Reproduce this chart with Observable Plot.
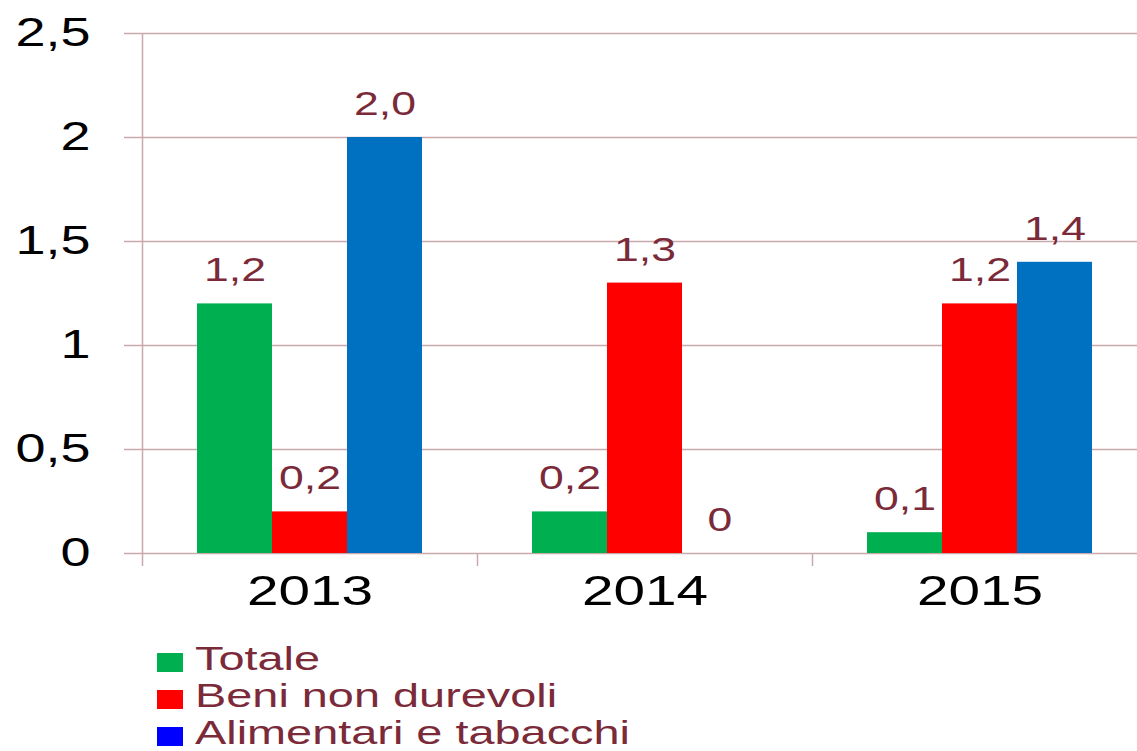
<!DOCTYPE html>
<html><head><meta charset="utf-8">
<script src="https://cdn.jsdelivr.net/npm/d3@7"></script>
<script src="https://cdn.jsdelivr.net/npm/@observablehq/plot@0.6"></script>
<style>
body{margin:0;background:#fff;font-family:"Liberation Sans",Arial,sans-serif;}
#chart svg{display:block;}
#legend{padding-left:157px;margin:0;}
.row{height:37px;display:flex;align-items:flex-start;}
.sw{width:26px;height:19px;margin-top:13px;flex:none;}
.lab{font-size:33px;line-height:37px;color:#7b2a3a;margin-left:12px;transform:scaleX(1.42);transform-origin:left center;white-space:nowrap;}
</style></head><body>
<div id="chart"></div>
<div id="legend"></div>
<script>
const years = ["2013", "2014", "2015"];
const series = ["Totale", "Beni non durevoli", "Alimentari e tabacchi"];
const totale = [1.2, 0.2, 0.1];
const beni = [0.2, 1.3, 1.2];
const alimentari = [2.0, 0, 1.4];
const totaleLabels = ["1,2", "0,2", "0,1"];
const beniLabels = ["0,2", "1,3", "1,2"];
const alimentariLabels = ["2,0", "0", "1,4"];
const yTicks = [0, 0.5, 1, 1.5, 2, 2.5];
const yTickLabels = ["0", "0,5", "1", "1,5", "2", "2,5"];
const barColors = ["#00b050", "#ff0000", "#0070c0"];
const legendColors = ["#00b050", "#ff0000", "#0000ff"];

const values = [totale, beni, alimentari];
const labels = [totaleLabels, beniLabels, alimentariLabels];
const tables = series.map((s, k) => years.map((y, i) => ({year: y, value: values[k][i], label: labels[k][i]})));

const W = 1137, H = 640, mL = 142, mT = 33, mB = 87;
const xRange = [142, 1147];
const bw = (xRange[1] - xRange[0]) / years.length;
const barW = 75;
const frameH = H - mT - mB;
const gridColor = "#c9a9ac";
const labelColor = "#7b2a3a";

const marks = [
  Plot.ruleY(yTicks, {y: d => d, stroke: gridColor, strokeWidth: 1.5, insetLeft: -18}),
  Plot.ruleX([years[0]], {x: d => d, dx: -bw / 2, stroke: gridColor, strokeWidth: 1.5, insetBottom: -13}),
  Plot.ruleX(years.slice(1), {x: d => d, dx: -bw / 2, stroke: gridColor, strokeWidth: 1.5, insetTop: frameH, insetBottom: -13}),
];
tables.forEach((t, k) => {
  marks.push(Plot.barY(t, {x: "year", y: "value", fill: barColors[k], insetLeft: (bw - barW) / 2, insetRight: (bw - barW) / 2, dx: (k - 1) * barW}));
});
tables.forEach((t, k) => {
  marks.push(Plot.text(t, {x: "year", y: "value", text: "label", dx: (k - 1) * barW, dy: -33, fontSize: 33, fill: labelColor}));
});
marks.push(Plot.text(yTicks, {y: d => d, text: (d, i) => yTickLabels[i], frameAnchor: "left", textAnchor: "end", dx: -52, fontSize: 40, fill: "#000"}));
marks.push(Plot.text(years, {x: d => d, text: d => d, frameAnchor: "bottom", dy: 51, fontSize: 42, fill: "#000"}));

const chart = Plot.plot({
  width: W, height: H,
  marginLeft: mL, marginRight: 0, marginTop: mT, marginBottom: mB,
  style: {fontFamily: "'Liberation Sans', Arial, sans-serif", background: "#fff", overflow: "visible"},
  x: {type: "band", domain: years, range: xRange, padding: 0, axis: null},
  y: {domain: [0, 2.5], axis: null},
  marks
});
chart.querySelectorAll("text").forEach(t => {
  const x = +(t.getAttribute("x") || 0);
  const tr = t.getAttribute("transform") || "";
  t.setAttribute("transform", `${tr} translate(${x},0) scale(1.35,1) translate(${-x},0)`);
});
document.getElementById("chart").appendChild(chart);

const legend = document.getElementById("legend");
series.forEach((s, k) => {
  const row = document.createElement("div");
  row.className = "row";
  const sw = document.createElement("span");
  sw.className = "sw";
  sw.style.background = legendColors[k];
  const lab = document.createElement("span");
  lab.className = "lab";
  lab.textContent = s;
  row.appendChild(sw); row.appendChild(lab);
  legend.appendChild(row);
});
</script>
</body></html>
